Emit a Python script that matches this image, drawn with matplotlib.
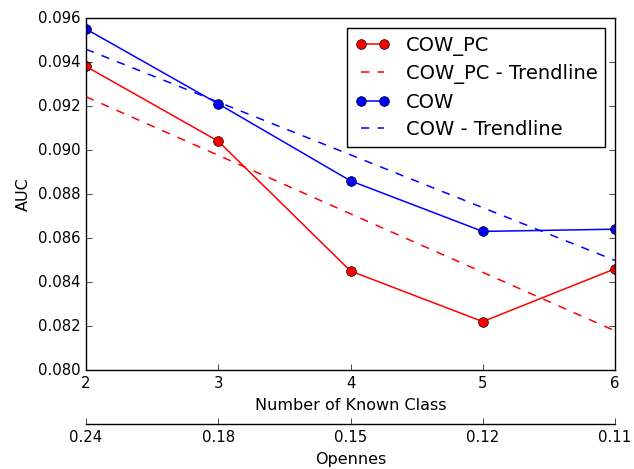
import numpy as np
import matplotlib
matplotlib.use("Agg")
import matplotlib.pyplot as plt

plt.style.use("classic")

# known classes and openness values
known_classes = [2, 3, 4, 5, 6]
openness_labels = ["0.24", "0.18", "0.15", "0.12", "0.11"]

auc_cow_pc = [0.0938, 0.0904, 0.0845, 0.0822, 0.0846]
auc_cow = [0.0955, 0.0921, 0.0886, 0.0863, 0.0864]

x = np.array(known_classes, dtype=float)

# linear trendlines from the data
fit_pc = np.polyfit(x, auc_cow_pc, 1)
fit_cow = np.polyfit(x, auc_cow, 1)

fig = plt.figure(figsize=(6.34, 4.69), dpi=100)
fig.patch.set_facecolor("white")
ax = fig.add_axes([86 / 634, 1 - 370 / 469, (615 - 86) / 634, (370 - 18) / 469])

ax.plot(x, auc_cow_pc, "-o", color="red", markersize=7, lw=1.1, label="COW_PC")
ax.plot(x, np.polyval(fit_pc, x), "--", color="red", lw=1.1, label="COW_PC - Trendline")
ax.plot(x, auc_cow, "-o", color="blue", markersize=7, lw=1.1, label="COW")
ax.plot(x, np.polyval(fit_cow, x), "--", color="blue", lw=1.1, label="COW - Trendline")

ax.set_xlim(2, 6)
ax.set_ylim(0.080, 0.096)
ax.set_xticks(known_classes)
ax.set_yticks(np.arange(0.080, 0.0961, 0.002))
ax.yaxis.set_major_formatter(matplotlib.ticker.FormatStrFormatter("%.3f"))
ax.tick_params(labelsize=10.7)
ax.set_xlabel("Number of Known Class", fontsize=11.5)
ax.set_ylabel("AUC", fontsize=11.5)

leg = ax.legend(loc="upper right", fontsize=14, numpoints=2, borderaxespad=0.5,
                handlelength=1.8, labelspacing=0.44)
leg.get_frame().set_linewidth(1.0)

# secondary x axis for openness
ax2 = ax.twiny()
ax2.set_xlim(ax.get_xlim())
ax2.set_xticks(known_classes)
ax2.set_xticklabels(openness_labels)
ax2.xaxis.set_ticks_position("bottom")
ax2.xaxis.set_label_position("bottom")
ax2.spines["bottom"].set_position(("outward", 54 * 0.72))
for side in ["top", "left", "right"]:
    ax2.spines[side].set_visible(False)
ax2.patch.set_visible(False)
ax2.tick_params(labelsize=10.7)
ax2.set_xlabel("Opennes", fontsize=11.5)

fig.savefig("out.png", dpi=100, facecolor="white")
